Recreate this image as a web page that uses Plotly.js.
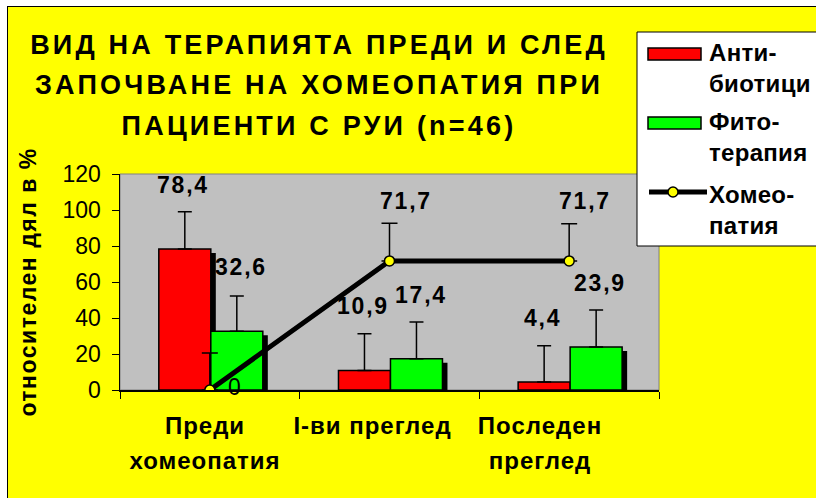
<!DOCTYPE html>
<html>
<head>
<meta charset="utf-8">
<script src="https://cdn.plot.ly/plotly-3.0.1.min.js"></script>
<style>
  html, body { margin: 0; padding: 0; background: #ffffff; width: 816px; height: 498px; overflow: hidden; }
  #wrap { position: absolute; left: 7px; top: 6px; width: 809px; height: 492px;
          border-left: 1px solid #000; border-top: 1px solid #000; box-sizing: border-box; background: #ffff00; }
  #chart { width: 808px; height: 491px; }
  .gtitle { letter-spacing: 3.2px; }
  .annotation-text { letter-spacing: 1.8px; }
  .annotation[data-index="9"] .annotation-text,
  .annotation[data-index="10"] .annotation-text,
  .annotation[data-index="11"] .annotation-text { letter-spacing: 0.3px; }
  .x2tick text { letter-spacing: 1px; }
  .ytitle { letter-spacing: 1.5px; }
</style>
</head>
<body>
<div id="wrap"><div id="chart"></div></div>
<script>
// ---- data ----
const categories = ["Преди хомеопатия", "I-ви преглед", "Последен преглед"];
const tickLines = [["Преди", "хомеопатия"], ["I-ви преглед"], ["Последен", "преглед"]];
const seriesNames = ["Анти-<br>биотици", "Фито-<br>терапия", "Хомео-<br>патия"];
const antibiotics = [78.4, 10.9, 4.4];
const antibioticsErr = [20.6, 20.4, 20.2];
const phyto = [32.6, 17.4, 23.9];
const phytoErr = [19.6, 20.4, 20.5];
const homeo = [0, 71.7, 71.7];
const homeoErr = [20.5, 20.9, 20.7];
const yTicks = [0, 20, 40, 60, 80, 100, 120];
const titleLines = ["ВИД НА ТЕРАПИЯТА ПРЕДИ И СЛЕД", "ЗАПОЧВАНЕ НА ХОМЕОПАТИЯ ПРИ", "ПАЦИЕНТИ С РУИ (n=46)"];
const yTitle = "относителен дял в %";

// ---- geometry / style ----
const W = 808, H = 491;
const M = {l: 112, r: 157, t: 167, b: 108};
const plotW = W - M.l - M.r, plotH = H - M.t - M.b;
const yMax = 120;
const nCat = categories.length;
const catPx = plotW / nCat;
const barW = 52 / catPx;               // category units
const redOff = -0.284, greenOff = redOff + barW;
const shDx = 5 / catPx, shDy = 4 / plotH * yMax;
const idx = categories.map((c, i) => i);
// category labels sit a bit left of the category centres (as in the original); separate label axis
const labelStart = 197, labelStep = 167.5; // px within graph
const labelRange = [(0 - (labelStart - M.l)) / labelStep, (plotW - (labelStart - M.l)) / labelStep];
const px = gx => (gx - M.l) / plotW;   // graph px -> paper
const py = gy => (M.t + plotH - gy) / plotH;
const fmt = v => v === 0 ? "0" : v.toFixed(1).replace(".", ",");
const FONT = "Liberation Sans, Arial, sans-serif";

function bar(y, off, color, err, name) {
  return {
    type: "bar", x: idx, y: y, offset: off, width: barW, name: name,
    marker: {color: color, line: {color: "#000", width: 1.5}},
    error_y: {type: "data", array: err, arrayminus: y.map(() => 0), symmetric: false,
              color: "#000", thickness: 1.5, width: 7},
    hoverinfo: "skip", showlegend: false
  };
}
const traces = [
  {type: "bar", x: idx, y: antibiotics.map(v => Math.max(v - shDy, 0)), offset: redOff + shDx, width: barW,
   marker: {color: "#000", line: {width: 0}}, showlegend: false, hoverinfo: "skip"},
  {type: "bar", x: idx, y: phyto.map(v => Math.max(v - shDy, 0)), offset: greenOff + shDx, width: barW,
   marker: {color: "#000", line: {width: 0}}, showlegend: false, hoverinfo: "skip"},
  bar(antibiotics, redOff, "#ff0000", antibioticsErr, seriesNames[0]),
  bar(phyto, greenOff, "#00ff00", phytoErr, seriesNames[1]),
  {type: "scatter", mode: "lines+markers", x: idx, y: homeo, name: seriesNames[2],
   line: {color: "#000", width: 5},
   marker: {color: "#ffff00", size: 10, line: {color: "#000", width: 1.5}},
   error_y: {type: "data", array: homeoErr, arrayminus: homeo.map(() => 0), symmetric: false,
             color: "#000", thickness: 1.5, width: 8},
   showlegend: false, hoverinfo: "skip"},
  // invisible carrier so the category-label axis is drawn
  {type: "scatter", x: idx, y: idx.map(() => 0), xaxis: "x2", mode: "none", showlegend: false, hoverinfo: "skip"}
];

// data labels
const annotations = [];
function addLabels(vals, dx, dyPos) {
  vals.forEach((v, i) => {
    annotations.push({
      xref: "x", yref: "y", x: i, y: v, text: fmt(v), showarrow: false,
      xshift: v === 0 ? 26 : dx, yshift: v === 0 ? 3 : dyPos,
      font: {family: FONT, size: 23, color: "#000", weight: v === 0 ? 400 : 700}
    });
  });
}
addLabels(antibiotics, -27, 64);
addLabels(phyto, 31, 64);
addLabels(homeo, 16, 60);

// manual legend (graph px converted to paper coords)
const shapes = [
  {type: "rect", xref: "paper", yref: "paper", x0: 0, x1: 1, y0: 0, y1: 1,
   line: {color: "#808080", width: 1}, layer: "below"},
  {type: "rect", xref: "paper", yref: "paper", x0: px(629), x1: px(830), y0: py(239), y1: py(25),
   fillcolor: "#ffffff", line: {color: "#000", width: 1}, layer: "above"},
  {type: "rect", xref: "paper", yref: "paper", x0: px(640), x1: px(693), y0: py(53), y1: py(41),
   fillcolor: "#ff0000", line: {color: "#000", width: 1.5}, layer: "above"},
  {type: "rect", xref: "paper", yref: "paper", x0: px(640), x1: px(693), y0: py(122), y1: py(110),
   fillcolor: "#00ff00", line: {color: "#000", width: 1.5}, layer: "above"},
  {type: "line", xref: "paper", yref: "paper", x0: px(641), x1: px(699), y0: py(185), y1: py(185),
   line: {color: "#000", width: 5}, layer: "above"},
  {type: "circle", xref: "paper", yref: "paper", xsizemode: "pixel", ysizemode: "pixel",
   xanchor: px(665), yanchor: py(185), x0: -5, x1: 5, y0: -5, y1: 5,
   fillcolor: "#ffff00", line: {color: "#000", width: 1.5}, layer: "above"}
];
const legendY = [61, 130, 203];
seriesNames.forEach((n, i) => {
  annotations.push({xref: "paper", yref: "paper", x: px(699), y: py(legendY[i]), xanchor: "left", yanchor: "middle",
    text: n, showarrow: false, align: "left",
    font: {family: FONT, size: 24, color: "#000", weight: 700}});
});

const layout = {
  width: W, height: H,
  margin: {l: M.l, r: M.r, t: M.t, b: M.b, pad: 0},
  paper_bgcolor: "#ffff00", plot_bgcolor: "#c0c0c0",
  barmode: "overlay", showlegend: false,
  title: {
    text: titleLines.map(t => '<span style="font-size:27px">' + t + '</span>').join("<br>"),
    font: {family: FONT, size: 31, color: "#000", weight: 700},
    xref: "container", yref: "container", x: 311 / W, xanchor: "center",
    y: 1 - 47 / H, yanchor: "top"
  },
  xaxis: {
    type: "linear", range: [-0.5, nCat - 0.5], tickmode: "array",
    tickvals: idx.concat([nCat]).map(i => i - 0.5), ticktext: idx.concat([nCat]).map(() => ""),
    ticks: "outside", ticklen: 7, tickcolor: "#000", tickwidth: 1,
    showgrid: false, zeroline: false, showline: true, linecolor: "#000", linewidth: 1.5,
    fixedrange: true
  },
  xaxis2: {
    overlaying: "x", side: "bottom", anchor: "y", range: labelRange, tickmode: "array", tickvals: idx,
    ticktext: tickLines.map(l => l.map(s => '<span style="font-size:24px">' + s + '</span>').join("<br>")),
    tickfont: {family: FONT, size: 27, color: "#000", weight: 700},
    ticks: "", ticklabelstandoff: 16,
    showgrid: false, zeroline: false, showline: false, fixedrange: true
  },
  yaxis: {
    range: [0, yMax], tickmode: "array", tickvals: yTicks, ticktext: yTicks.map(String),
    tickfont: {family: FONT, size: 23, color: "#000"},
    ticks: "outside", ticklen: 7, tickcolor: "#000", tickwidth: 1, ticklabelstandoff: 6,
    showgrid: false, zeroline: false, showline: true, linecolor: "#000", linewidth: 1.5,
    title: {text: "\u00a0\u00a0\u00a0\u00a0" + yTitle, font: {family: FONT, size: 23, color: "#000", weight: 700}, standoff: 19},
    fixedrange: true
  },
  annotations: annotations,
  shapes: shapes
};

Plotly.newPlot("chart", traces, layout, {staticPlot: true, displayModeBar: false});
</script>
</body>
</html>
